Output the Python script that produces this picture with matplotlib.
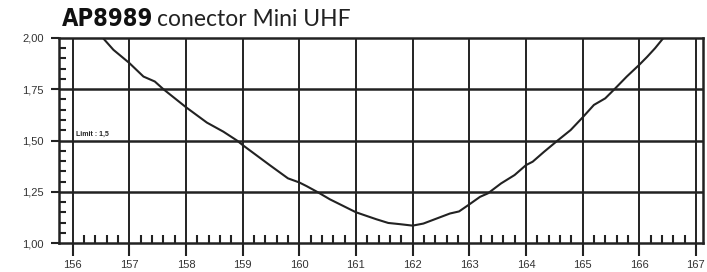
import matplotlib
matplotlib.use("Agg")
import matplotlib.pyplot as plt
import numpy as np
from matplotlib.ticker import MultipleLocator, FixedLocator

freq = [156.53, 156.72, 157.0, 157.25, 157.45, 157.6, 158.0, 158.37, 158.66, 158.9,
        159.0, 159.48, 159.8, 160.0, 160.13, 160.33, 160.54, 161.0, 161.19, 161.36,
        161.57, 161.78, 162.0, 162.19, 162.42, 162.66, 162.82, 163.0, 163.19, 163.33,
        163.56, 163.8, 164.0, 164.12, 164.32, 164.56, 164.79, 165.0, 165.2, 165.4,
        165.55, 165.78, 166.0, 166.14, 166.28, 166.41]
swr = [2.00, 1.941, 1.877, 1.811, 1.787, 1.75, 1.662, 1.587, 1.543, 1.50,
       1.478, 1.38, 1.316, 1.296, 1.278, 1.248, 1.214, 1.151, 1.133, 1.117,
       1.099, 1.093, 1.086, 1.096, 1.12, 1.145, 1.155, 1.189, 1.226, 1.243,
       1.291, 1.332, 1.38, 1.397, 1.445, 1.50, 1.551, 1.612, 1.673, 1.705,
       1.746, 1.811, 1.868, 1.907, 1.949, 1.993]
x_ticks = [156, 157, 158, 159, 160, 161, 162, 163, 164, 165, 166, 167]
y_ticks = [1.00, 1.25, 1.50, 1.75, 2.00]
y_labels = ["1,00", "1,25", "1,50", "1,75", "2,00"]
limit_label = "Limit : 1,5"
title_bold = "AP8989"
title_rest = "conector Mini UHF"

C = "#222222"
fig = plt.figure(figsize=(7.07, 2.72), dpi=100)
ax = fig.add_axes([0.0839, 0.1055, 0.9100, 0.7559])
ax.set_xlim(155.765, 167.12)
ax.set_ylim(1.0, 2.0)

for x in x_ticks:
    ax.axvline(x, color=C, lw=1.4, zorder=1)
for y in y_ticks[1:-1]:
    ax.axhline(y, color=C, lw=1.8, zorder=1)

ax.plot(freq, swr, color=C, lw=1.5, zorder=3)

for s in ax.spines.values():
    s.set_color(C)
    s.set_linewidth(1.8)

ax.set_xticks(x_ticks)
ax.set_xticklabels([str(v) for v in x_ticks], family='Liberation Sans')
ax.xaxis.set_minor_locator(FixedLocator([v / 5 for v in range(156 * 5, 167 * 5 + 1) if v % 5 != 0]))
ax.set_yticks(y_ticks)
ax.set_yticklabels(y_labels, family='Liberation Sans')
ax.yaxis.set_minor_locator(MultipleLocator(0.05))

ax.tick_params(axis='x', which='major', direction='out', length=9, width=1.5, color=C,
               labelsize=8, labelcolor='#333333', pad=3)
ax.tick_params(axis='x', which='minor', direction='in', length=6, width=1.5, color=C)
ax.tick_params(axis='y', which='major', direction='out', length=6, width=1.5, color=C,
               labelsize=8, labelcolor='#333333', pad=5)
ax.tick_params(axis='y', which='minor', direction='in', length=5, width=1.5, color=C)

ax.text(156.06, 1.515, limit_label, fontsize=5, fontweight='bold', color=C,
        family='Liberation Sans', ha='left', va='bottom')

fig.text(0.087, 0.905, title_bold, fontsize=17, fontweight='heavy', fontstretch='condensed',
         family='DejaVu Sans', color='#111111', ha='left', va='baseline')
fig.text(0.222, 0.905, title_rest, fontsize=16.5, family='Lato', color='#222222',
         ha='left', va='baseline')

fig.savefig("out.png", dpi=100)
